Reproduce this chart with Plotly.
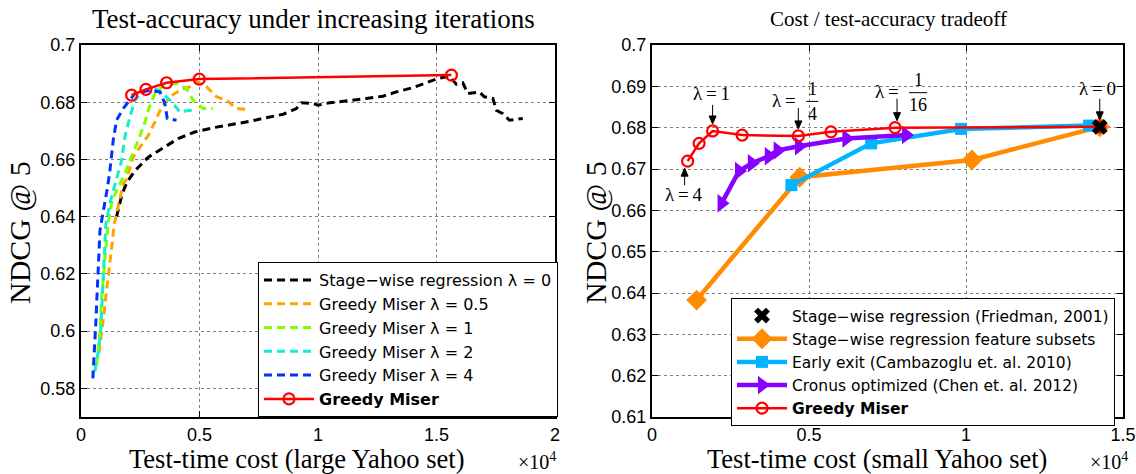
import plotly.graph_objects as go

# ---------------- Left panel data (cost in units of 1e4) ----------------
sw_x = [0.150, 0.172, 0.193, 0.228, 0.284, 0.340, 0.410, 0.480, 0.558, 0.642, 0.712,
        0.782, 0.853, 0.909, 0.930, 0.979, 1.000, 1.049, 1.120, 1.204, 1.274, 1.330,
        1.400, 1.471, 1.506, 1.555, 1.583, 1.611, 1.632, 1.681, 1.702, 1.738, 1.752,
        1.780, 1.808, 1.864]
sw_y = [0.6400, 0.6475, 0.6520, 0.6561, 0.6608, 0.6637, 0.6673, 0.6696, 0.6711, 0.6723, 0.6733,
        0.6746, 0.6758, 0.6778, 0.6798, 0.6795, 0.6790, 0.6798, 0.6804, 0.6813, 0.6821, 0.6836,
        0.6851, 0.6871, 0.6883, 0.6891, 0.6863, 0.6868, 0.6830, 0.6836, 0.6819, 0.6813, 0.6772,
        0.6760, 0.6737, 0.6743]

l05_x = [0.076, 0.087, 0.097, 0.105, 0.115, 0.122, 0.132, 0.140, 0.152, 0.164, 0.178, 0.193,
         0.220, 0.249, 0.284, 0.312, 0.340, 0.375, 0.417, 0.459, 0.488, 0.530, 0.572, 0.614,
         0.656, 0.698]
l05_y = [0.5924, 0.5990, 0.6060, 0.6123, 0.6187, 0.6246, 0.6310, 0.6374, 0.6415, 0.6456, 0.6515, 0.6532,
         0.6608, 0.6643, 0.6684, 0.6731, 0.6783, 0.6819, 0.6842, 0.6854, 0.6871, 0.6854, 0.6819, 0.6807,
         0.6778, 0.6775]

l1_x = [0.066, 0.080, 0.087, 0.101, 0.108, 0.115, 0.129, 0.150, 0.185, 0.206, 0.242, 0.270,
        0.288, 0.312, 0.347, 0.403, 0.445, 0.473, 0.515, 0.556]
l1_y = [0.5884, 0.6000, 0.6117, 0.6246, 0.6316, 0.6380, 0.6446, 0.6491, 0.6550, 0.6596, 0.6667, 0.6731,
        0.6783, 0.6830, 0.6860, 0.6866, 0.6848, 0.6807, 0.6778, 0.6778]

l2_x = [0.059, 0.073, 0.083, 0.087, 0.091, 0.094, 0.097, 0.101, 0.105, 0.122, 0.140, 0.157,
        0.171, 0.185, 0.206, 0.228, 0.256, 0.312, 0.347, 0.389, 0.417, 0.459, 0.488]
l2_y = [0.5860, 0.5930, 0.6000, 0.6060, 0.6117, 0.6187, 0.6246, 0.6310, 0.6375, 0.6446, 0.6503, 0.6556,
        0.6596, 0.6678, 0.6748, 0.6807, 0.6836, 0.6848, 0.6830, 0.6795, 0.6766, 0.6772, 0.6770]

l4_x = [0.050, 0.056, 0.059, 0.063, 0.066, 0.069, 0.073, 0.076, 0.080, 0.087, 0.101, 0.112,
        0.122, 0.136, 0.150, 0.178, 0.228, 0.291, 0.333, 0.354, 0.364, 0.403]
l4_y = [0.5835, 0.5912, 0.5972, 0.6035, 0.6095, 0.6158, 0.6222, 0.6288, 0.6351, 0.6386, 0.6446, 0.6503,
        0.6561, 0.6667, 0.6737, 0.6778, 0.6831, 0.6842, 0.6836, 0.6795, 0.6743, 0.6737]

gmL_x = [0.2136, 0.274, 0.361, 0.499, 1.563]
gmL_y = [0.6825, 0.6845, 0.6868, 0.6881, 0.6895]

# ---------------- Right panel data ----------------
fr_x = [1.426]
fr_y = [0.6802]
sub_x = [0.142, 0.4705, 1.019, 1.426]
sub_y = [0.6383, 0.6680, 0.6722, 0.6802]
ee_x = [0.444, 0.698, 0.984, 1.392]
ee_y = [0.6661, 0.6762, 0.6797, 0.6805]
cr_x = [0.2215, 0.277, 0.318, 0.372, 0.400, 0.468, 0.619, 0.809]
cr_y = [0.6617, 0.6695, 0.6714, 0.6731, 0.6745, 0.6755, 0.6774, 0.6782]
gmR_x = [0.1134, 0.150, 0.193, 0.287, 0.466, 0.570, 0.774, 1.426]
gmR_y = [0.6719, 0.6762, 0.6792, 0.6782, 0.6780, 0.6790, 0.6800, 0.6802]

left_xticks = [0, 0.5, 1, 1.5, 2]
left_xlabels = ["0", "0.5", "1", "1.5", "2"]
left_yticks = [0.58, 0.60, 0.62, 0.64, 0.66, 0.68, 0.70]
left_ylabels = ["0.58", "0.6", "0.62", "0.64", "0.66", "0.68", "0.7"]
right_xticks = [0, 0.5, 1, 1.5]
right_xlabels = ["0", "0.5", "1", "1.5"]
right_yticks = [0.61, 0.62, 0.63, 0.64, 0.65, 0.66, 0.67, 0.68, 0.69, 0.70]
right_ylabels = ["0.61", "0.62", "0.63", "0.64", "0.65", "0.66", "0.67", "0.68", "0.69", "0.7"]

W, H = 1136, 474
SANS = "Liberation Sans"
LEGFONT = "DejaVu Sans"
SERIF = "Liberation Serif"
DASH = "8px,5px"

fig = go.Figure()

left_series = [
    (sw_x, sw_y, "#000000", "Stage\u2212wise regression \u03bb = 0"),
    (l05_x, l05_y, "#FFA500", "Greedy Miser \u03bb = 0.5"),
    (l1_x, l1_y, "#80FF00", "Greedy Miser \u03bb = 1"),
    (l2_x, l2_y, "#10F0D0", "Greedy Miser \u03bb = 2"),
    (l4_x, l4_y, "#0033FF", "Greedy Miser \u03bb = 4"),
]
for i, (xs, ys, c, nm) in enumerate(left_series):
    fig.add_trace(go.Scatter(x=xs, y=ys, mode="lines", name=nm,
                             line=dict(color=c, width=3, dash=DASH),
                             xaxis="x", yaxis="y", legend="legend", legendrank=i + 1))
fig.add_trace(go.Scatter(x=gmL_x, y=gmL_y, mode="lines+markers", name="<b>Greedy Miser</b>",
                         line=dict(color="#FF0000", width=2.5),
                         marker=dict(symbol="circle-open", size=11, color="#FF0000", line=dict(width=2.2)),
                         xaxis="x", yaxis="y", legend="legend", legendrank=6))

# right traces
fig.add_trace(go.Scatter(x=sub_x, y=sub_y, mode="lines+markers",
                         name="Stage\u2212wise regression feature subsets",
                         line=dict(color="#FF8C00", width=4.5),
                         marker=dict(symbol="diamond", size=16, color="#FF8C00"),
                         xaxis="x2", yaxis="y2", legend="legend2", legendrank=2))
fig.add_trace(go.Scatter(x=ee_x, y=ee_y, mode="lines+markers",
                         name="Early exit (Cambazoglu et. al. 2010)",
                         line=dict(color="#00B4FF", width=4.5),
                         marker=dict(symbol="square", size=12, color="#00B4FF"),
                         xaxis="x2", yaxis="y2", legend="legend2", legendrank=3))
fig.add_trace(go.Scatter(x=cr_x, y=cr_y, mode="lines+markers",
                         name="Cronus optimized (Chen et. al. 2012)",
                         line=dict(color="#8800FF", width=4.5),
                         marker=dict(symbol="triangle-right", size=16, color="#8800FF"),
                         xaxis="x2", yaxis="y2", legend="legend2", legendrank=4))
fig.add_trace(go.Scatter(x=gmR_x, y=gmR_y, mode="lines+markers", name="<b>Greedy Miser</b>",
                         line=dict(color="#FF0000", width=2.5),
                         marker=dict(symbol="circle-open", size=11, color="#FF0000", line=dict(width=2.2)),
                         xaxis="x2", yaxis="y2", legend="legend2", legendrank=5))
fig.add_trace(go.Scatter(x=fr_x, y=fr_y, mode="markers",
                         name="Stage\u2212wise regression (Friedman, 2001)",
                         marker=dict(symbol="x", size=14, color="#000000"),
                         xaxis="x2", yaxis="y2", legend="legend2", legendrank=1))

axis_common = dict(showline=True, linecolor="black", linewidth=2, mirror="allticks",
                   ticks="inside", ticklen=6, tickcolor="black", tickwidth=1,
                   showgrid=True, gridcolor="#808080", griddash="dot", gridwidth=1,
                   zeroline=False, automargin=False,
                   tickfont=dict(family=SANS, size=18, color="black"))

fig.update_layout(
    width=W, height=H, margin=dict(l=0, r=0, t=0, b=0, autoexpand=False),
    paper_bgcolor="white", plot_bgcolor="white", showlegend=True,
    xaxis=dict(domain=[81 / W, 555 / W], range=[0, 2], tickvals=left_xticks, ticktext=left_xlabels,
               anchor="y", **axis_common),
    yaxis=dict(domain=[1 - 417 / H, 1 - 45 / H], range=[0.57, 0.70], tickvals=left_yticks,
               ticktext=left_ylabels, anchor="x", **axis_common),
    xaxis2=dict(domain=[652 / W, 1123 / W], range=[0, 1.5], tickvals=right_xticks, ticktext=right_xlabels,
                anchor="y2", **axis_common),
    yaxis2=dict(domain=[1 - 417 / H, 1 - 45 / H], range=[0.61, 0.70], tickvals=right_yticks,
                ticktext=right_ylabels, anchor="x2", **axis_common),
    legend=dict(x=258 / W, y=1 - 262 / H, xanchor="left", yanchor="top", bgcolor="white",
                bordercolor="black", borderwidth=1, itemwidth=50,
                font=dict(family=LEGFONT, size=16, color="black")),
    legend2=dict(x=731 / W, y=1 - 298 / H, xanchor="left", yanchor="top", bgcolor="white",
                 bordercolor="black", borderwidth=1, itemwidth=50,
                 font=dict(family=LEGFONT, size=15.5, color="black")),
)

def paper_text(txt, x, y, size, angle=0, fam=SERIF):
    fig.add_annotation(text=txt, x=x / W, y=1 - y / H, xref="paper", yref="paper",
                       showarrow=False, textangle=angle, xanchor="center", yanchor="middle",
                       font=dict(family=fam, size=size, color="black"))

paper_text("Test-accuracy under increasing iterations", 313, 19, 27)
paper_text("Cost / test-accuracy tradeoff", 888, 19, 21)
paper_text("NDCG @ 5", 20, 233, 30, angle=-90)
paper_text("NDCG @ 5", 596, 233, 30, angle=-90)
paper_text("Test-time cost (large Yahoo set)", 296, 459, 26.5)
paper_text("Test-time cost (small Yahoo set)", 877, 459, 26.5)
paper_text("\u00d710<sup>4</sup>", 537, 461, 20)
paper_text("\u00d710<sup>4</sup>", 1109, 461, 20)

# lambda annotations on the right Greedy Miser curve
def arrow(i, xo, y_tail, y_head):
    d = 1 if y_tail > y_head else -1  # tail above the point -> arrow points down
    fig.add_shape(type="line", xref="x2", yref="y2", xsizemode="pixel", ysizemode="pixel",
                  xanchor=gmR_x[i], yanchor=gmR_y[i], x0=xo, x1=xo, y0=y_tail, y1=y_head + d * 5,
                  line=dict(color="black", width=1))
    p = "M {a},{b} L {c},{b} L {m},{t} Z".format(a=xo - 3.5, c=xo + 3.5, m=xo,
                                                 b=y_head + d * 8, t=y_head)
    fig.add_shape(type="path", xref="x2", yref="y2", xsizemode="pixel", ysizemode="pixel",
                  xanchor=gmR_x[i], yanchor=gmR_y[i], path=p, fillcolor="black",
                  line=dict(color="black", width=1))

def lab(i, txt, xs, ys, size=19):
    fig.add_annotation(x=gmR_x[i], y=gmR_y[i], xref="x2", yref="y2", text=txt, showarrow=False,
                       xshift=xs, yshift=ys, font=dict(family=SERIF, size=size, color="black"))

def frac_line(i, x0, x1, yy):
    fig.add_shape(type="line", xref="x2", yref="y2", xsizemode="pixel", ysizemode="pixel",
                  xanchor=gmR_x[i], yanchor=gmR_y[i], x0=x0, x1=x1, y0=yy, y1=yy,
                  line=dict(color="black", width=1))

# lambda = 4 (below)
arrow(0, -3, -24, -7)
lab(0, "\u03bb\u2009=\u20094", -4, -33)
# lambda = 1
arrow(2, 0, 26, 7)
lab(2, "\u03bb\u2009=\u20091", -1, 37)
# lambda = 1/4
arrow(4, 0, 28, 7)
lab(4, "\u03bb\u2009=", -14, 35)
lab(4, "1", 14, 47, 18)
lab(4, "4", 14, 22, 18)
frac_line(4, 8, 20, 34.5)
# lambda = 1/16
arrow(6, 2, 29, 7)
lab(6, "\u03bb\u2009=", -8, 36)
lab(6, "1", 23, 48, 18)
lab(6, "16", 23, 23, 18)
frac_line(6, 14, 32, 35)
# lambda = 0
arrow(7, 0, 28, 7)
lab(7, "\u03bb\u2009=\u20090", -2, 38)

fig.write_html("out.html", config={"displayModeBar": False},
               post_script="document.body.style.margin='0px';")
